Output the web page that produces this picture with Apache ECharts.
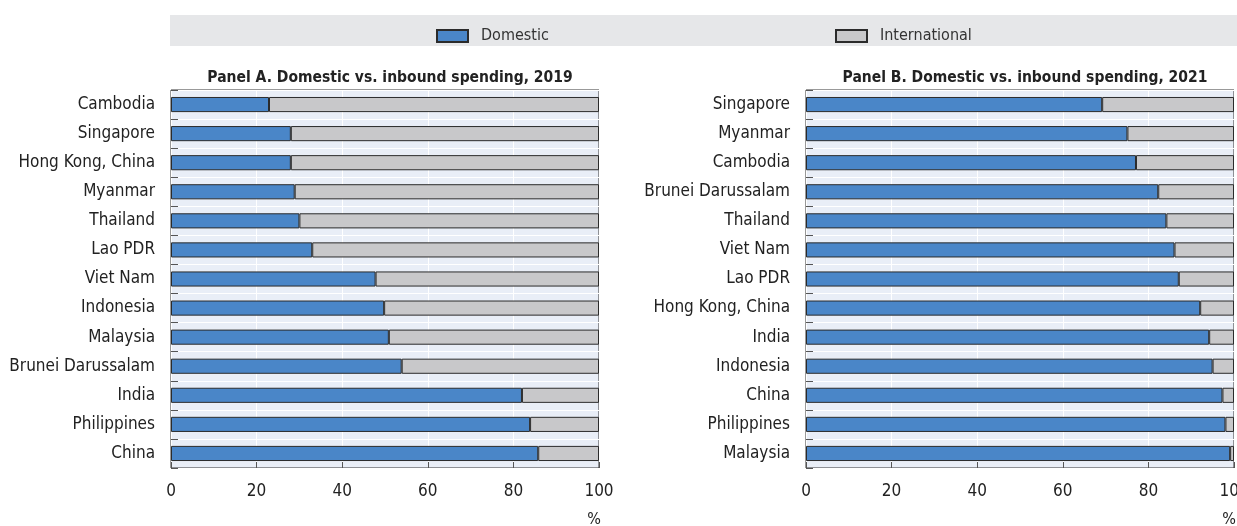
<!DOCTYPE html>
<html style="height: 100%">
<head>
  <meta charset="utf-8">
  <title>Domestic vs. inbound spending</title>
  <script src="https://cdn.jsdelivr.net/npm/echarts@6/dist/echarts.min.js"></script>
</head>
<body style="height: 100%; margin: 0; background: #fff">
  <div id="container" style="width: 1237px; height: 526px"></div>
  <script>
    // data
    const countriesA = ['Cambodia', 'Singapore', 'Hong Kong, China', 'Myanmar', 'Thailand', 'Lao PDR', 'Viet Nam',
      'Indonesia', 'Malaysia', 'Brunei Darussalam', 'India', 'Philippines', 'China'];
    const domesticA = [22.9, 28.0, 28.0, 28.9, 30.0, 33.0, 47.8, 49.8, 50.9, 53.9, 82.0, 83.9, 85.8];
    const internationalA = [77.1, 72.0, 72.0, 71.1, 70.0, 67.0, 52.2, 50.2, 49.1, 46.1, 18.0, 16.1, 14.2];

    const countriesB = ['Singapore', 'Myanmar', 'Cambodia', 'Brunei Darussalam', 'Thailand', 'Viet Nam', 'Lao PDR',
      'Hong Kong, China', 'India', 'Indonesia', 'China', 'Philippines', 'Malaysia'];
    const domesticB = [69.2, 75.1, 77.1, 82.3, 84.2, 86.1, 87.1, 92.1, 94.2, 95.0, 97.3, 98.0, 99.1];
    const internationalB = [30.8, 24.9, 22.9, 17.7, 15.8, 13.9, 12.9, 7.9, 5.8, 5.0, 2.7, 2.0, 0.9];

    const xTicks = [0, 20, 40, 60, 80, 100];
    const panelTitles = ['Panel A. Domestic vs. inbound spending, 2019', 'Panel B. Domestic vs. inbound spending, 2021'];

    const FONT = "'DejaVu Sans Condensed', 'Liberation Sans', sans-serif";
    const BLUE = '#4a86c8';
    const GREY = '#c8c8ca';
    const EDGE = '#2b2b2b';

    let chart = echarts.init(document.getElementById('container'));

    function xAxisFor(idx) {
      return {
        gridIndex: idx,
        type: 'value',
        min: xTicks[0],
        max: xTicks[xTicks.length - 1],
        interval: 20,
        axisLine: { show: false },
        axisTick: { show: true, inside: true, length: 6, lineStyle: { color: '#555' } },
        axisLabel: { fontFamily: FONT, fontSize: 17, color: '#222', margin: 15 },
        splitLine: { show: true, lineStyle: { color: '#ffffff', width: 1 } }
      };
    }

    function yAxisFor(idx, cats) {
      return {
        gridIndex: idx,
        type: 'category',
        data: cats,
        inverse: true,
        axisLine: { show: false },
        axisTick: { show: true, inside: true, length: 7, lineStyle: { color: '#555' } },
        axisLabel: { fontFamily: FONT, fontSize: 17, color: '#222', margin: 16 },
        splitLine: { show: true, lineStyle: { color: '#ffffff', width: 1 } }
      };
    }

    function barSeries(name, idx, values, color) {
      return {
        name: name,
        type: 'bar',
        stack: 'panel' + idx,
        xAxisIndex: idx,
        yAxisIndex: idx,
        barWidth: '52%',
        data: values,
        itemStyle: { color: color, borderColor: EDGE, borderWidth: 1 }
      };
    }

    const legendBase = {
      icon: 'rect',
      itemWidth: 31,
      itemHeight: 12,
      top: 23,
      textStyle: { fontFamily: FONT, fontSize: 16, color: '#333', padding: [0, 0, 0, 8] },
      selectedMode: false
    };

    let option = {
      animation: false,
      graphic: [
        { type: 'rect', shape: { x: 170, y: 15, width: 1067, height: 31 }, style: { fill: '#e6e7e9' }, z: -1 },
        { type: 'text', x: 594, y: 512, style: { text: '%', font: '16px ' + FONT, fill: '#222', textAlign: 'center' } },
        { type: 'text', x: 1229, y: 512, style: { text: '%', font: '16px ' + FONT, fill: '#222', textAlign: 'center' } }
      ],
      title: [
        { text: panelTitles[0], left: 385, top: 65, textAlign: 'center',
          textStyle: { fontFamily: FONT, fontSize: 15.5, fontWeight: 'bold', color: '#222' } },
        { text: panelTitles[1], left: 1020, top: 65, textAlign: 'center',
          textStyle: { fontFamily: FONT, fontSize: 15.5, fontWeight: 'bold', color: '#222' } }
      ],
      legend: [
        Object.assign({}, legendBase, { data: ['Domestic'], left: 431 }),
        Object.assign({}, legendBase, { data: ['International'], left: 830 })
      ],
      grid: [
        { left: 171, right: 638, top: 90, height: 378, outerBoundsMode: 'none', show: true,
          backgroundColor: '#e9eef7', borderColor: '#333', borderWidth: 1 },
        { left: 806, right: 3, top: 90, height: 378, outerBoundsMode: 'none', show: true,
          backgroundColor: '#e9eef7', borderColor: '#333', borderWidth: 1 }
      ],
      xAxis: [xAxisFor(0), xAxisFor(1)],
      yAxis: [yAxisFor(0, countriesA), yAxisFor(1, countriesB)],
      series: [
        barSeries('Domestic', 0, domesticA, BLUE),
        barSeries('International', 0, internationalA, GREY),
        barSeries('Domestic', 1, domesticB, BLUE),
        barSeries('International', 1, internationalB, GREY)
      ]
    };

    chart.setOption(option);
  </script>
</body>
</html>
